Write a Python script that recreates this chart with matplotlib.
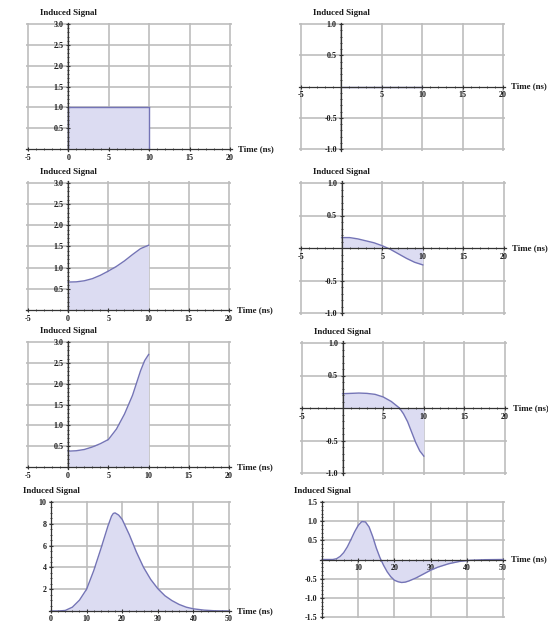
import numpy as np
import matplotlib
matplotlib.use('Agg')
import matplotlib.pyplot as plt
from matplotlib.ticker import FixedLocator, MultipleLocator, FuncFormatter

# ---------------- data ----------------
t1 = [0, 10]
v1 = [1.0, 1.0]

t2 = [0, 10]
v2 = [0.0, 0.0]

t3 = [0, 1, 2, 3, 4, 5, 6, 7, 8, 9, 10]
v3 = [0.66, 0.665, 0.69, 0.74, 0.82, 0.92, 1.03, 1.16, 1.31, 1.45, 1.53]

t4 = [0, 1, 2, 3, 4, 5, 6, 7, 8, 9, 10]
v4 = [0.16, 0.16, 0.14, 0.11, 0.08, 0.035, -0.02, -0.09, -0.16, -0.22, -0.26]

t5 = [0, 1, 2, 3, 4, 5, 6, 7, 8, 9, 9.5, 10]
v5 = [0.38, 0.39, 0.42, 0.48, 0.56, 0.66, 0.91, 1.27, 1.72, 2.31, 2.55, 2.7]

t6 = [0, 1, 2, 3, 4, 5, 6, 7, 7.5, 8, 8.5, 9, 9.5, 10]
v6 = [0.22, 0.225, 0.23, 0.225, 0.21, 0.17, 0.1, 0.0, -0.09, -0.21, -0.37, -0.53, -0.66, -0.74]

t7 = [0, 2, 4, 6, 8, 10, 12, 14, 16, 17, 17.5, 18, 19, 20, 22, 24, 26, 28, 30, 32, 34, 36, 38, 40, 43, 46, 50]
v7 = [0, 0, 0.05, 0.35, 1.0, 2.0, 3.7, 5.7, 7.8, 8.7, 8.95, 9.0, 8.8, 8.4, 7.0, 5.4, 4.0, 2.9, 2.05, 1.4, 0.95, 0.6, 0.35, 0.2, 0.08, 0.02, 0]

t8 = [0, 2, 3, 4, 5, 6, 7, 8, 9, 10, 11, 12, 13, 14, 15, 16, 17, 18, 19, 20, 21, 22, 23, 24, 26, 28, 30, 32, 35, 38, 41, 45, 50]
v8 = [0, 0, 0.0, 0.02, 0.08, 0.18, 0.33, 0.52, 0.72, 0.89, 0.99, 0.98, 0.85, 0.6, 0.3, 0.05, -0.15, -0.32, -0.45,
      -0.54, -0.58, -0.6, -0.59, -0.56, -0.48, -0.38, -0.28, -0.2, -0.11, -0.05, -0.02, -0.005, 0]

xticks_short = [-5, 0, 5, 10, 15, 20]
xticks_short_nozero = [-5, 5, 10, 15, 20]
yticks_pos3 = [0.5, 1.0, 1.5, 2.0, 2.5, 3.0]
yticks_sym1 = [-1.0, -0.5, 0.5, 1.0]
xticks_long = [0, 10, 20, 30, 40, 50]
xticks_long_nozero = [10, 20, 30, 40, 50]
yticks_pos10 = [2, 4, 6, 8, 10]
yticks_sym15 = [-1.5, -1.0, -0.5, 0.5, 1.0, 1.5]

y_label = "Induced Signal"
x_label = "Time (ns)"

# ---------------- style ----------------
W, H = 548, 623
fig = plt.figure(figsize=(W / 100, H / 100), dpi=100)

FILL = '#dcdcf2'
LINE = '#7474b6'
GRID = '#bdbdbd'
AXC = '#333333'
FONT = 'Liberation Serif'
TXT = '#1a1a1a'


def fmt_dec(v, pos=None):
    return '%.1f' % v


def fmt_int(v, pos=None):
    return '%d' % round(v)


def panel(px_l, px_r, px_t, px_b, xr, yr, xt, yt, xfmt, yfmt, xgrid, ygrid,
          xminor, yminor, t, v, rect=False, pad=0.012, xpad=1.5):
    dx = (xr[1] - xr[0]) * pad
    dy = (yr[1] - yr[0]) * pad
    ppx = (px_r - px_l) / (xr[1] - xr[0])
    ppy = (px_b - px_t) / (yr[1] - yr[0])
    l = px_l - dx * ppx
    r = px_r + dx * ppx
    tp = px_t - dy * ppy
    b = px_b + dy * ppy
    ax = fig.add_axes([l / W, 1 - b / H, (r - l) / W, (b - tp) / H])
    ax.set_xlim(xr[0] - dx, xr[1] + dx)
    ax.set_ylim(yr[0] - dy, yr[1] + dy)
    ax.set_facecolor('none')

    for g in xgrid:
        ax.axvline(g, color=GRID, lw=1.2, zorder=0)
    for g in ygrid:
        ax.axhline(g, color=GRID, lw=1.2, zorder=0)

    ax.fill_between(t, v, 0, color=FILL, lw=0, zorder=1)
    ax.plot(t, v, color=LINE, lw=1.0, zorder=2)
    if rect:
        ax.vlines([t[0], t[-1]], 0, [v[0], v[-1]], color=LINE, lw=1.0, zorder=2)

    for s in ['top', 'right']:
        ax.spines[s].set_visible(False)
    ax.spines['left'].set_position(('data', 0))
    ax.spines['bottom'].set_position(('data', 0))
    for s in ['left', 'bottom']:
        ax.spines[s].set_color(AXC)
        ax.spines[s].set_linewidth(0.9)
        ax.spines[s].set_zorder(3)

    ax.xaxis.set_major_locator(FixedLocator(xt))
    ax.yaxis.set_major_locator(FixedLocator(yt))
    ax.xaxis.set_minor_locator(MultipleLocator(xminor))
    ax.yaxis.set_minor_locator(MultipleLocator(yminor))
    ax.xaxis.set_major_formatter(FuncFormatter(xfmt))
    ax.yaxis.set_major_formatter(FuncFormatter(yfmt))
    ax.tick_params(which='major', direction='inout', length=3.5, width=0.8,
                   color=AXC, labelsize=5.8)
    ax.tick_params(axis='x', which='major', pad=xpad)
    ax.tick_params(axis='y', which='major', pad=1.5)
    ax.tick_params(which='minor', direction='inout', length=1.8, width=0.6, color=AXC)
    for lab in ax.get_xticklabels() + ax.get_yticklabels():
        lab.set_fontfamily(FONT)
        lab.set_fontweight('bold')
        lab.set_color(TXT)

    ax.annotate(y_label, xy=(0, yr[1]), xycoords='data', xytext=(0, 5),
                textcoords='offset points', ha='center', va='bottom',
                fontsize=6.4, fontfamily=FONT, fontweight='bold', color=TXT,
                annotation_clip=False)
    ax.annotate(x_label, xy=(xr[1], 0), xycoords='data', xytext=(6, 0),
                textcoords='offset points', ha='left', va='center',
                fontsize=6.4, fontfamily=FONT, fontweight='bold', color=TXT,
                annotation_clip=False)
    return ax


gx_short = [-5, 0, 5, 10, 15, 20]
gy3 = [0.5, 1.0, 1.5, 2.0, 2.5, 3.0]
gy1 = [-1.0, -0.5, 0.5, 1.0]

# Row 1
panel(28, 230, 24, 149, (-5, 20), (0, 3), xticks_short, yticks_pos3, fmt_int, fmt_dec,
      gx_short, gy3, 1, 0.1, t1, v1, rect=True)
panel(301, 503, 24, 149, (-5, 20), (-1, 1), xticks_short_nozero, yticks_sym1, fmt_int, fmt_dec,
      gx_short, gy1, 1, 0.1, t2, v2)
# Row 2
panel(28, 229, 183, 310, (-5, 20), (0, 3), xticks_short, yticks_pos3, fmt_int, fmt_dec,
      gx_short, gy3, 1, 0.1, t3, v3)
panel(301, 504, 183, 313, (-5, 20), (-1, 1), xticks_short_nozero, yticks_sym1, fmt_int, fmt_dec,
      gx_short, gy1, 1, 0.1, t4, v4)
# Row 3
panel(28, 229, 342, 467, (-5, 20), (0, 3), xticks_short, yticks_pos3, fmt_int, fmt_dec,
      gx_short, gy3, 1, 0.1, t5, v5)
panel(302, 505, 343, 473, (-5, 20), (-1, 1), xticks_short_nozero, yticks_sym1, fmt_int, fmt_dec,
      gx_short, gy1, 1, 0.1, t6, v6)
# Row 4
panel(51, 229, 502, 611, (0, 50), (0, 10), xticks_long, yticks_pos10, fmt_int, fmt_int,
      [10, 20, 30, 40, 50], [2, 4, 6, 8, 10], 2, 0.5, t7, v7, xpad=0.8)
panel(322, 503, 502, 617, (0, 50), (-1.5, 1.5), xticks_long_nozero, yticks_sym15, fmt_int, fmt_dec,
      [10, 20, 30, 40, 50], [-1.5, -1.0, -0.5, 0.5, 1.0, 1.5], 2, 0.1, t8, v8)

fig.savefig('out.png', dpi=100, facecolor='white')
